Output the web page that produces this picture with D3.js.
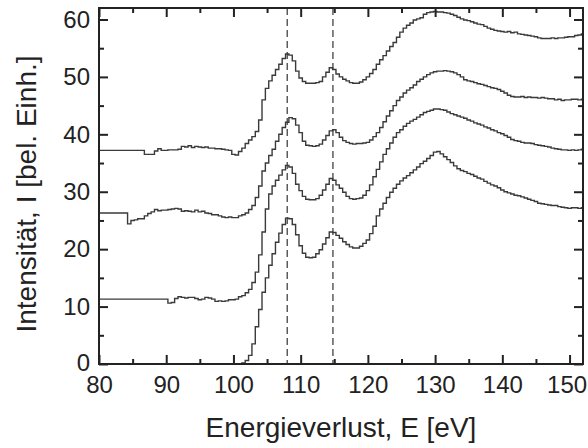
<!DOCTYPE html>
<html><head><meta charset="utf-8">
<script src="https://cdn.jsdelivr.net/npm/d3@7"></script>
<style>
html,body{margin:0;padding:0;background:#fff;}
svg{display:block;}
text{font-family:"Liberation Sans",Arial,sans-serif;fill:#222;}
</style></head>
<body>
<svg id="chart" width="588" height="448"></svg>
<script>
// Energy grid (eV)
const energy = [
 80,80.5,81,81.5,82,82.5,83,83.5,84,84.5,
 85,85.5,86,86.5,87,87.5,88,88.5,89,89.5,
 90,90.5,91,91.5,92,92.5,93,93.5,94,94.5,
 95,95.5,96,96.5,97,97.5,98,98.5,99,99.5,
 100,100.5,101,101.5,102,102.5,103,103.5,104,104.5,
 105,105.5,106,106.5,107,107.5,108,108.5,109,109.5,
 110,110.5,111,111.5,112,112.5,113,113.5,114,114.5,
 115,115.5,116,116.5,117,117.5,118,118.5,119,119.5,
 120,120.5,121,121.5,122,122.5,123,123.5,124,124.5,
 125,125.5,126,126.5,127,127.5,128,128.5,129,129.5,
 130,130.5,131,131.5,132,132.5,133,133.5,134,134.5,
 135,135.5,136,136.5,137,137.5,138,138.5,139,139.5,
 140,140.5,141,141.5,142,142.5,143,143.5,144,144.5,
 145,145.5,146,146.5,147,147.5,148,148.5,149,149.5,
 150,150.5,151,151.5,152
];

const spectrum1 = [
 37.2,37.2,37.2,37.2,37.2,37.2,37.2,37.2,37.2,37.2,
 37.2,37.2,37.2,37.2,36.5,36.5,36.5,37.1,37.5,37.2,
 37.2,37.3,37.3,37.3,37.4,37.9,37.8,38.0,37.7,37.9,
 37.8,37.7,37.8,37.6,37.6,37.5,37.5,37.4,37.3,37.2,
 36.5,36.4,37.0,37.6,38.4,39.0,39.6,40.5,42.5,46.0,
 48.0,49.3,50.3,51.3,52.2,53.2,54.0,53.8,52.8,51.0,
 49.8,49.2,48.9,48.9,48.9,49.0,49.2,50.0,50.8,51.6,
 51.3,50.5,50.0,49.6,49.3,49.0,48.9,48.9,49.1,49.5,
 50.0,50.6,51.3,52.2,53.0,53.7,54.5,55.3,56.0,56.9,
 57.8,58.5,59.0,59.4,59.9,60.1,60.3,60.9,61.2,61.3,
 61.4,61.3,61.3,61.2,61.1,60.9,60.7,60.4,60.1,59.9,
 59.8,59.6,59.4,59.2,59.1,58.8,58.5,58.3,58.1,58.0,
 57.9,57.8,57.9,57.7,57.8,57.5,57.4,57.3,57.2,57.1,
 57.0,56.8,56.7,56.7,56.7,56.8,56.7,56.8,56.8,56.9,
 57.0,57.0,57.2,57.3,57.5
];

const spectrum2 = [
 26.3,26.3,26.3,26.3,26.3,26.3,26.3,26.3,26.3,24.4,
 25.0,25.1,25.3,25.3,25.8,26.2,26.5,26.9,26.7,26.8,
 26.8,26.9,27.0,27.1,27.0,26.6,26.7,26.6,26.5,26.8,
 26.5,26.6,26.3,26.2,26.0,26.0,25.8,25.6,25.5,25.6,
 25.5,25.5,25.8,26.0,26.3,26.9,27.6,29.0,31.0,33.6,
 35.0,36.3,37.4,38.8,40.0,41.2,42.1,42.9,42.7,41.6,
 40.3,38.8,38.1,38.0,37.9,38.0,38.3,39.0,39.8,40.6,
 40.8,40.3,39.5,38.9,38.6,38.4,38.3,38.4,38.4,38.5,
 38.6,39.0,39.6,40.3,41.2,42.2,43.2,44.1,45.0,45.9,
 46.5,47.2,47.7,48.1,48.6,49.2,49.6,50.0,50.4,50.7,
 50.9,51.0,51.0,51.1,51.0,50.9,50.7,50.4,50.0,49.5,
 49.3,49.2,49.0,48.8,48.7,48.5,48.3,48.1,48.0,47.8,
 47.5,47.2,46.8,46.6,46.5,46.5,46.6,46.4,46.5,46.4,
 46.4,46.3,46.4,46.3,46.2,46.2,46.0,46.1,45.9,46.0,
 46.0,46.1,46.1,46.0,46.1
];

const spectrum3 = [
 11.3,11.3,11.3,11.3,11.3,11.3,11.3,11.3,11.3,11.3,
 11.3,11.3,11.3,11.3,11.3,11.3,11.3,11.3,11.3,11.3,
 11.3,10.6,10.7,11.4,11.7,11.6,11.5,11.6,11.6,11.4,
 11.2,11.3,11.6,11.5,11.3,10.9,11.0,10.9,11.0,11.2,
 11.2,11.3,11.7,11.9,12.4,13.0,14.2,16.0,19.0,23.0,
 27.0,29.6,31.0,32.0,32.9,33.8,34.6,34.3,33.2,31.3,
 30.2,29.2,28.7,28.6,28.6,28.8,29.4,30.3,31.3,32.3,
 32.0,31.2,30.6,29.9,29.2,28.8,28.7,28.8,28.9,29.4,
 30.2,31.2,32.6,33.9,35.2,36.5,37.5,38.5,39.5,40.3,
 40.8,41.4,41.9,42.3,42.6,43.0,43.4,43.8,44.0,44.2,
 44.4,44.4,44.3,44.2,43.9,43.6,43.4,43.2,43.0,42.8,
 42.5,42.3,42.0,41.8,41.6,41.3,41.1,40.8,40.6,40.3,
 40.1,39.8,39.5,39.1,38.9,38.8,38.6,38.5,38.5,38.4,
 38.2,38.1,38.0,37.9,37.8,37.6,37.5,37.4,37.3,37.3,
 37.2,37.3,37.2,37.3,37.4
];

const spectrum4 = [
 null,null,null,null,null,null,null,null,null,null,
 null,null,null,null,null,null,null,null,null,null,
 null,null,null,null,null,null,null,null,null,null,
 null,null,null,null,null,null,null,null,null,null,
 null,null,0.0,0.2,0.6,1.5,3.5,6.5,9.5,12.5,
 15.0,17.2,19.2,21.2,22.8,24.3,25.4,25.3,24.3,22.5,
 20.6,19.3,18.6,18.5,18.6,19.2,19.9,20.9,22.0,23.0,
 22.9,22.4,21.9,21.3,20.8,20.4,20.2,20.2,20.5,21.0,
 21.6,22.7,24.0,25.8,27.0,28.0,29.0,29.9,30.6,31.3,
 31.9,32.4,32.8,33.3,33.8,34.3,34.9,35.3,35.8,36.3,
 36.9,37.0,36.6,36.1,35.6,35.1,34.5,34.0,33.7,33.5,
 33.2,33.0,32.7,32.4,32.2,31.8,31.5,31.2,31.0,30.7,
 30.3,30.0,29.8,29.6,29.4,29.3,29.1,28.9,28.7,28.5,
 28.3,28.0,27.9,27.8,27.7,27.6,27.6,27.4,27.3,27.2,
 27.1,27.2,27.2,27.1,27.2
];

const seriesList = [spectrum1, spectrum2, spectrum3, spectrum4];
const markerLines = [108, 114.8];
const xTicks = [80, 90, 100, 110, 120, 130, 140, 150];
const yTicks = [0, 10, 20, 30, 40, 50, 60];
const xMinor = [85, 95, 105, 115, 125, 135, 145];
const yMinor = [5, 15, 25, 35, 45, 55];
const xTitle = "Energieverlust, E [eV]";
const yTitle = "Intensität, I [bel. Einh.]";

const svg = d3.select("#chart");
const m = {left: 99, top: 8, right: 5, bottom: 84};
const W = 588 - m.left - m.right, H = 448 - m.top - m.bottom;
const x = d3.scaleLinear().domain([80, 152]).range([0, W]);
const y = d3.scaleLinear().domain([0, 62]).range([H, 0]);
const g = svg.append("g").attr("transform", `translate(${m.left},${m.top})`);

// dashed markers
g.selectAll("line.marker").data(markerLines).join("line")
  .attr("class","marker")
  .attr("x1", d => x(d)).attr("x2", d => x(d))
  .attr("y1", 0).attr("y2", H)
  .attr("stroke", "#444").attr("stroke-width", 1.3)
  .attr("stroke-dasharray", "7,4");

// spectra
const line = d3.line()
  .defined(d => d[1] !== null)
  .x(d => x(d[0])).y(d => y(d[1]))
  .curve(d3.curveStep);
seriesList.forEach(s => {
  const pts = energy.map((e, i) => [e, s[i] === undefined ? null : s[i]]);
  g.append("path").datum(pts)
    .attr("fill", "none").attr("stroke", "#3a3a3a")
    .attr("stroke-width", 1.4).attr("d", line);
});

// axes (ticks inward, mirrored)
function styleAxis(sel){
  sel.select(".domain").remove();
  sel.selectAll("line").attr("stroke", "#222").attr("stroke-width", 2);
  sel.selectAll("text").style("font-size", "24px").attr("fill", "#222")
     .style("font-family", '"Liberation Sans",Arial,sans-serif');
}
const xb = g.append("g").attr("transform", `translate(0,${H})`)
  .call(d3.axisBottom(x).tickValues(xTicks).tickSize(-9).tickPadding(14).tickFormat(d3.format("d")));
styleAxis(xb);
xb.selectAll("text").attr("dy", "0.71em").attr("y", 12)
  .attr("dx", d => d === 150 ? -3 : 0);
const xbm = g.append("g").attr("transform", `translate(0,${H})`)
  .call(d3.axisBottom(x).tickValues(xMinor).tickSize(-5).tickFormat(""));
styleAxis(xbm);
const xt = g.append("g")
  .call(d3.axisTop(x).tickValues(xTicks).tickSize(-9).tickFormat(""));
styleAxis(xt);
const xtm = g.append("g")
  .call(d3.axisTop(x).tickValues(xMinor).tickSize(-5).tickFormat(""));
styleAxis(xtm);

const yl = g.append("g")
  .call(d3.axisLeft(y).tickValues(yTicks).tickSize(-9).tickPadding(9).tickFormat(d3.format("d")));
styleAxis(yl);
yl.selectAll("text").attr("dy", d => d === 0 ? "0.25em" : "0.32em");
const ylm = g.append("g")
  .call(d3.axisLeft(y).tickValues(yMinor).tickSize(-5).tickFormat(""));
styleAxis(ylm);
const yr = g.append("g").attr("transform", `translate(${W},0)`)
  .call(d3.axisRight(y).tickValues(yTicks).tickSize(-9).tickFormat(""));
styleAxis(yr);
const yrm = g.append("g").attr("transform", `translate(${W},0)`)
  .call(d3.axisRight(y).tickValues(yMinor).tickSize(-5).tickFormat(""));
styleAxis(yrm);

// frame
g.append("rect").attr("x", 0).attr("y", 0).attr("width", W).attr("height", H)
  .attr("fill", "none").attr("stroke", "#222").attr("stroke-width", 2);

// titles
svg.append("text").attr("x", m.left + W/2).attr("y", 437)
  .attr("text-anchor", "middle").style("font-size", "28px").text(xTitle);
svg.append("text")
  .attr("transform", `translate(36,${m.top + H/2 + 8}) rotate(-90)`)
  .attr("text-anchor", "middle").style("font-size", "28px").text(yTitle);
</script>
</body></html>
